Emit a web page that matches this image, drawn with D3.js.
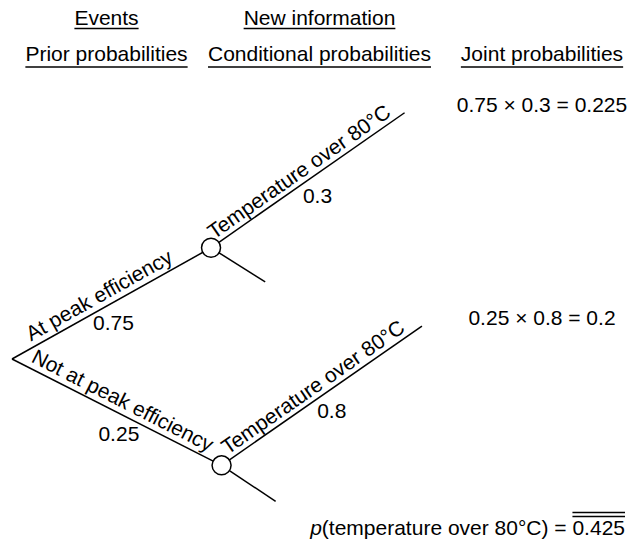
<!DOCTYPE html>
<html>
<head>
<meta charset="utf-8">
<script src="https://cdn.jsdelivr.net/npm/d3@7"></script>
<style>
  html, body { margin: 0; padding: 0; background: #fff; }
  svg { display: block; }
  text { font-family: "Liberation Sans", Arial, Helvetica, sans-serif; font-size: 21px; fill: #000; }
</style>
</head>
<body>
<svg id="chart" width="628" height="547"></svg>
<script>
// ---------- data ----------
const headersRow1 = ["Events", "New information", ""];
const headersRow2 = ["Prior probabilities", "Conditional probabilities", "Joint probabilities"];
const events = ["At peak efficiency", "Not at peak efficiency"];
const priorProbabilities = [0.75, 0.25];
const newInformation = ["Temperature over 80\u00B0C", "Temperature over 80\u00B0C"];
const conditionalProbabilities = [0.3, 0.8];
const jointProbabilities = [0.225, 0.2];
const totalProbability = 0.425;
const totalLabel = "temperature over 80\u00B0C";

// ---------- layout (geometry only) ----------
const svg = d3.select("#chart");
const columnX = d3.scaleOrdinal().domain([0, 1, 2]).range([106.5, 319.5, 542]);
const headerY = d3.scaleOrdinal().domain([0, 1]).range([25, 61]);
const underlineGap = [3.5, 6];

const root = { x: 12, y: 359 };
const eventAngles = [-29.2, 26.9], eventLengths = [228, 235];
const infoAngles = [-34.9, -34.8], infoLengths = [236, 244];
const otherAngles = [32.2, 33.7], otherLengths = [64, 65];
const rad = d => d * Math.PI / 180;
const polar = (p, a, l) => ({ x: p.x + l * Math.cos(rad(a)), y: p.y + l * Math.sin(rad(a)) });

const nodes = events.map((e, i) => polar(root, eventAngles[i], eventLengths[i]));
const infoEnds = nodes.map((n, i) => polar(n, infoAngles[i], infoLengths[i]));
const otherEnds = nodes.map((n, i) => polar(n, otherAngles[i], otherLengths[i]));

// ---------- headers ----------
[headersRow1, headersRow2].forEach((row, r) => {
  row.forEach((label, c) => {
    if (!label) return;
    const t = svg.append("text")
      .attr("x", columnX(c)).attr("y", headerY(r))
      .attr("text-anchor", "middle").text(label);
    const w = t.node().getComputedTextLength();
    svg.append("line")
      .attr("x1", columnX(c) - w / 2).attr("x2", columnX(c) + w / 2)
      .attr("y1", headerY(r) + underlineGap[r]).attr("y2", headerY(r) + underlineGap[r])
      .attr("stroke", "#000").attr("stroke-width", 1.3);
  });
});

// ---------- branches ----------
const segs = [];
nodes.forEach((n, i) => {
  segs.push({ a: root, b: n });
  segs.push({ a: n, b: infoEnds[i] });
  segs.push({ a: n, b: otherEnds[i] });
});
svg.selectAll("line.branch").data(segs).enter().append("line")
  .attr("class", "branch")
  .attr("x1", d => d.a.x).attr("y1", d => d.a.y)
  .attr("x2", d => d.b.x).attr("y2", d => d.b.y)
  .attr("stroke", "#000").attr("stroke-width", 1.5);

svg.selectAll("circle.node").data(nodes).enter().append("circle")
  .attr("class", "node")
  .attr("cx", d => d.x).attr("cy", d => d.y).attr("r", 9.5)
  .attr("fill", "#fff").attr("stroke", "#000").attr("stroke-width", 1.5);

// rotated labels along a segment
function alongLabel(a, b, txt, t, off) {
  const ang = Math.atan2(b.y - a.y, b.x - a.x) * 180 / Math.PI;
  const px = a.x + (b.x - a.x) * t, py = a.y + (b.y - a.y) * t;
  svg.append("text")
    .attr("transform", `translate(${px},${py}) rotate(${ang})`)
    .attr("x", 0).attr("y", -off)
    .attr("text-anchor", "middle").text(txt);
}
function probLabel(a, b, txt, t, dy) {
  const px = a.x + (b.x - a.x) * t, py = a.y + (b.y - a.y) * t;
  svg.append("text").attr("x", px).attr("y", py + dy)
    .attr("text-anchor", "middle").text(txt);
}

events.forEach((e, i) => {
  alongLabel(root, nodes[i], e, i === 0 ? 0.47 : 0.5, 6);
  probLabel(root, nodes[i], String(priorProbabilities[i]), 0.51, 28);
  alongLabel(nodes[i], infoEnds[i], newInformation[i], 0.49, 5);
  probLabel(nodes[i], infoEnds[i], String(conditionalProbabilities[i]), 0.55, 29);
  // joint probability text
  svg.append("text")
    .attr("x", columnX(2)).attr("y", infoEnds[i].y - 1)
    .attr("text-anchor", "middle")
    .text(`${priorProbabilities[i]} \u00D7 ${conditionalProbabilities[i]} = ${jointProbabilities[i]}`);
});

// ---------- total ----------
const totalText = svg.append("text")
  .attr("x", 625).attr("y", 535).attr("text-anchor", "end");
totalText.append("tspan").attr("font-style", "italic").text("p");
totalText.append("tspan").text(`(${totalLabel}) = `);
totalText.append("tspan").text(String(totalProbability));
const full = `p(${totalLabel}) = ${totalProbability}`;
const idx = full.length - String(totalProbability).length;
const tn = totalText.node();
const x0 = tn.getStartPositionOfChar(idx).x;
const x1 = tn.getEndPositionOfChar(full.length - 1).x;
[512.5, 516.5].forEach(y => {
  svg.append("line").attr("x1", x0).attr("x2", x1).attr("y1", y).attr("y2", y)
    .attr("stroke", "#000").attr("stroke-width", 1.3);
});
</script>
</body>
</html>
